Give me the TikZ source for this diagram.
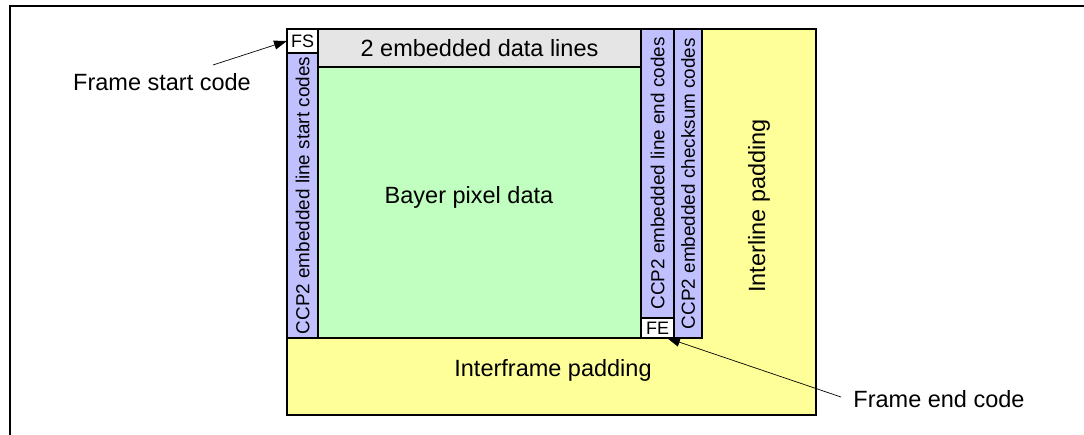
\documentclass[tikz,border=0pt]{standalone}
\usepackage{fontspec}
\setmainfont{Liberation Sans}
\usetikzlibrary{arrows.meta,calc}
\definecolor{cgray}{RGB}{229,229,229}
\definecolor{cgreen}{RGB}{192,255,192}
\definecolor{cblue}{RGB}{192,192,255}
\definecolor{cyellow}{RGB}{255,255,153}
\begin{document}
\begin{tikzpicture}[x=1pt,y=-1pt,
  region/.style={draw=black,line width=1.5pt,inner sep=0pt,outer sep=0pt,anchor=north west},
  big/.style={font=\fontsize{23.5}{28}\selectfont,inner sep=0pt},
  vert/.style={font=\fontsize{18.9}{22}\selectfont,rotate=90,inner sep=0pt},
  small/.style={font=\fontsize{18}{20}\selectfont},
  arr/.style={-{Triangle[length=13pt,width=9pt]},line width=0.7pt}]
\useasboundingbox (0,0) rectangle (1084,435);
% outer frame
\draw[line width=2.5pt] (10,440) -- (10,6) -- (1090,6);
% padding (yellow, L-shaped background)
\node[region,fill=cyellow,minimum width=529pt,minimum height=386pt] (pad) at (287,29) {};
% embedded data lines
\node[region,fill=cgray,minimum width=323pt,minimum height=38pt,big] (emb) at (318,29) {2 embedded data lines};
% bayer data
\node[region,fill=cgreen,minimum width=323pt,minimum height=271pt] (bayer) at (318,67) {};
\node[big] (bayert) at (469,197) {Bayer pixel data};
% FS and line start codes
\node[region,fill=white,minimum width=31pt,minimum height=24pt,small] (fs) at (287,29) {FS};
\node[region,fill=cblue,minimum width=31pt,minimum height=285pt] (lsc) at (287,53) {};
\node[vert] (lsct) at (lsc.center) {CCP2 embedded line start codes};
% line end codes and FE
\node[region,fill=cblue,minimum width=33pt,minimum height=289pt] (lec) at (641,29) {};
\node[vert] (lect) at (lec.center) {CCP2 embedded line end codes};
\node[region,fill=white,minimum width=33pt,minimum height=20pt,small] (fe) at (641,318) {FE};
% checksum codes
\node[region,fill=cblue,minimum width=28pt,minimum height=309pt] (csc) at (674,29) {};
\node[vert] (csct) at (csc.center) {CCP2 embedded checksum codes};
% padding labels
\node[big,rotate=90] (ilp) at (759,206) {Interline padding};
\node[big] (ifp) at (553,370) {Interframe padding};
% main border
\draw[line width=2.5pt] (pad.north west) rectangle (pad.south east);
% callouts
\node[big] (fsl) at (162,82) {Frame start code};
\node[big] (fel) at (939,399) {Frame end code};
\coordinate (fsa) at (213,65);
\draw[arr] (fsa) -- (fs.west);
\coordinate (fea) at (841,397);
\draw[arr] (fea) -- ([xshift=-7pt]fe.south east);
\end{tikzpicture}
\end{document}
